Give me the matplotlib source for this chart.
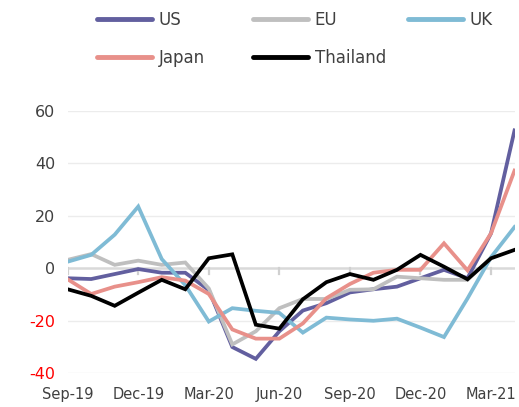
import numpy as np
import matplotlib
matplotlib.use("Agg")
import matplotlib.pyplot as plt
from matplotlib.lines import Line2D

plt.rcParams["axes.unicode_minus"] = False

months = ["Sep-19", "Oct-19", "Nov-19", "Dec-19", "Jan-20", "Feb-20", "Mar-20",
          "Apr-20", "May-20", "Jun-20", "Jul-20", "Aug-20", "Sep-20", "Oct-20",
          "Nov-20", "Dec-20", "Jan-21", "Feb-21", "Mar-21", "Apr-21"]

us = [-3.8, -4.1, -2.2, -0.3, -1.7, -1.7, -8.3, -30, -34.5, -24, -16.1, -13.3,
      -9.2, -8, -7, -3.8, -0.6, -3.8, 13.3, 52.5]
eu = [3.2, 5.4, 1.3, 2.9, 1.3, 2.2, -7.7, -29, -24, -15.2, -11.7, -11.7,
      -8.2, -8, -3.2, -3.8, -4.4, -4.4, 4, np.nan]
uk = [2.5, 5.1, 12.8, 23.5, 3.5, -6.4, -20.3, -15.2, -16.2, -17, -24.5, -18.8,
      -19.5, -20, -19.2, -22.6, -26.2, -11.5, 4.2, 15.7]
japan = [-4.2, -9.8, -7, -5.3, -3.4, -4.7, -9.8, -23.3, -26.8, -26.8, -21, -11.4,
         -6, -1.7, -0.6, -0.6, 9.5, -0.8, 13.3, 37.2]
thailand = [-8, -10.5, -14.3, -9.3, -4.4, -8, 3.8, 5.3, -21.5, -23, -11.8, -5.3,
            -2.2, -4.4, -0.6, 5.1, 0.6, -4.2, 3.8, 7]

series = ["US", "EU", "UK", "Japan", "Thailand"]
values = [us, eu, uk, japan, thailand]
colors = ["#625f9f", "#bfbfbf", "#7fbbd5", "#e8908a", "#000000"]

yticks = [-40, -20, 0, 20, 40, 60]

fig = plt.figure(figsize=(5.19, 4.07), dpi=100)
ax = fig.add_axes([0.1304, 0.0828, 0.861, 0.6452])

x = np.arange(len(months))
for name, vals, c in zip(series, values, colors):
    ax.plot(x, vals, color=c, lw=2.7, label=name, solid_joinstyle="miter",
            zorder=3)

ax.set_xlim(0, len(months) - 1)
ax.set_ylim(-40, 60)
ax.set_yticks(yticks)
for y in yticks:
    if y != 0:
        ax.axhline(y, color="#ececec", lw=1, zorder=0)
ax.axhline(0, color="#d9d9d9", lw=1.8, zorder=1)
# small tick marks below the zero line
for i in range(0, len(months), 3):
    ax.plot([i, i], [0, -2], color="#d0d0d0", lw=1.6, zorder=1)

ax.set_xticks(x[::3])
ax.set_xticklabels(months[::3])
ax.tick_params(axis="x", length=0, pad=10, labelsize=10.5, labelcolor="#404040")
ax.tick_params(axis="y", length=0, pad=9, labelsize=11.5)
for lab, y in zip(ax.get_yticklabels(), yticks):
    lab.set_color("red" if y < 0 else "#404040")
for s in ax.spines.values():
    s.set_visible(False)

# legend entries placed in a 3-column grid
legend_pos = [(97, 20), (253, 20), (408, 20), (97, 58), (253, 58)]
for name, c, (px, py) in zip(series, colors, legend_pos):
    h = Line2D([], [], color=c, lw=3.5, solid_capstyle="round")
    leg = fig.legend([h], [name], loc="center left",
                     bbox_to_anchor=(px / 519, 1 - py / 407),
                     frameon=False, fontsize=12, handlelength=3.3,
                     handletextpad=0.4, borderaxespad=0, borderpad=0)
    for t in leg.get_texts():
        t.set_color("#404040")

fig.savefig("out.png", dpi=100)
